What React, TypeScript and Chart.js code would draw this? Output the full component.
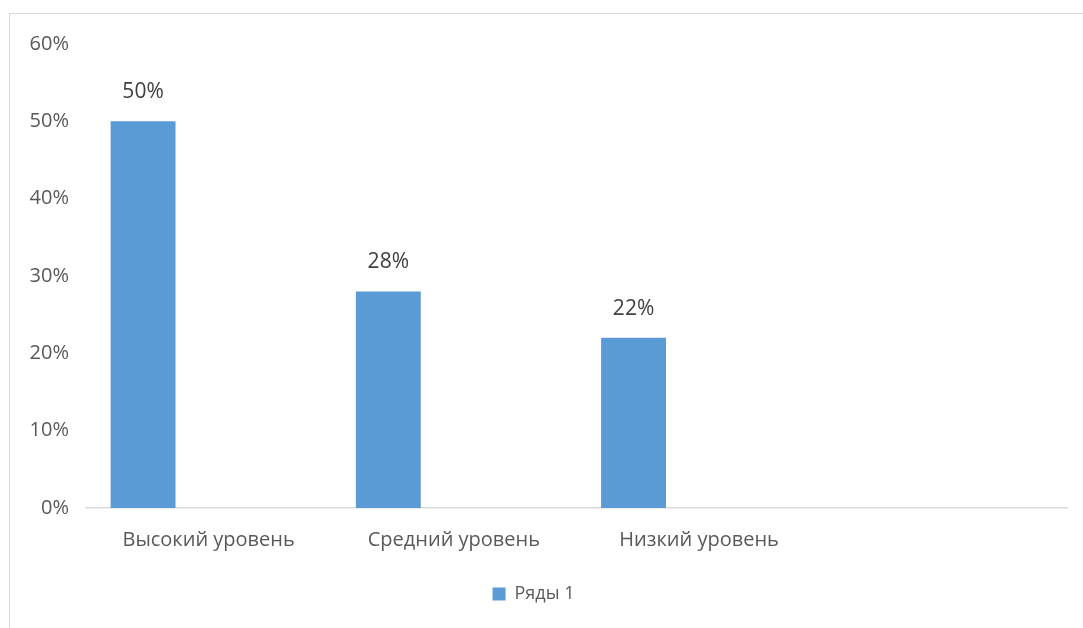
import React, { useEffect, useRef } from "react";
import { Chart, registerables } from "chart.js";

Chart.register(...registerables);

const categories = ["Высокий уровень", "Средний уровень", "Низкий уровень", ""];
const seriesName = "Ряды 1";
const seriesValues = [50, 28, 22, null];
const emptySeries = [null, null, null, null];
const yTicks = [0, 10, 20, 30, 40, 50, 60];

const FONT = "'Open Sans', 'Noto Sans', sans-serif";
const TEXT = "#595959";
const BAR = "#5b9bd5";

const dataLabels = {
  id: "dataLabels",
  afterDatasetsDraw(chart: any) {
    const ctx = chart.ctx;
    const meta = chart.getDatasetMeta(0);
    ctx.save();
    ctx.font = `21px ${FONT}`;
    ctx.fillStyle = "#404040";
    ctx.textAlign = "center";
    ctx.textBaseline = "middle";
    meta.data.forEach((el: any, i: number) => {
      const v = seriesValues[i];
      if (v === null || v === undefined) return;
      ctx.fillText(`${v}%`, el.x, el.y - 29);
    });
    ctx.restore();
  },
};

export default function App() {
  const ref = useRef<HTMLCanvasElement>(null);
  useEffect(() => {
    if (!ref.current) return;
    const chart = new Chart(ref.current, {
      type: "bar",
      data: {
        labels: categories,
        datasets: [
          { label: seriesName, data: seriesValues, backgroundColor: BAR, categoryPercentage: 0.802, barPercentage: 0.99 },
          { label: "_a", data: emptySeries, backgroundColor: BAR, categoryPercentage: 0.802, barPercentage: 0.99 },
          { label: "_b", data: emptySeries, backgroundColor: BAR, categoryPercentage: 0.802, barPercentage: 0.99 },
        ] as any,
      },
      options: {
        animation: false,
        responsive: false,
        maintainAspectRatio: false,
        layout: { padding: { left: 0, right: 16, top: 44, bottom: 15 } },
        plugins: {
          tooltip: { enabled: false },
          legend: {
            position: "bottom",
            labels: {
              filter: (item: any) => item.text === seriesName,
              boxWidth: 13,
              boxHeight: 13,
              padding: 10,
              color: TEXT,
              font: { family: FONT, size: 18 },
            },
          },
        },
        scales: {
          x: {
            grid: { display: false, drawTicks: false },
            border: { display: true, color: "#d9d9d9", width: 1.5 },
            ticks: { color: TEXT, font: { family: FONT, size: 20 }, padding: 20, maxRotation: 0, autoSkip: false },
            afterFit: (s: any) => { s.height = 67; },
          },
          y: {
            min: 0,
            max: 60,
            afterBuildTicks: (s: any) => { s.ticks = yTicks.map((v) => ({ value: v })); },
            grid: { display: false, drawTicks: false },
            border: { display: false },
            ticks: {
              color: TEXT,
              font: { family: FONT, size: 20 },
              padding: 17,
              callback: (v: any) => `${v}%`,
            },
            afterFit: (s: any) => { s.width = 86; },
          },
        },
      },
      plugins: [dataLabels],
    });
    return () => chart.destroy();
  }, []);

  return (
    <div style={{ position: "fixed", left: 0, top: 0, width: 1083, height: 628, background: "#fff", overflow: "hidden" }}>
      <div style={{ position: "absolute", left: 9, top: 13, width: 1200, height: 800, border: "1.5px solid #d9d9d9" }} />
      <canvas ref={ref} width={1083} height={628} style={{ position: "absolute", left: 0, top: 0 }} />
    </div>
  );
}
